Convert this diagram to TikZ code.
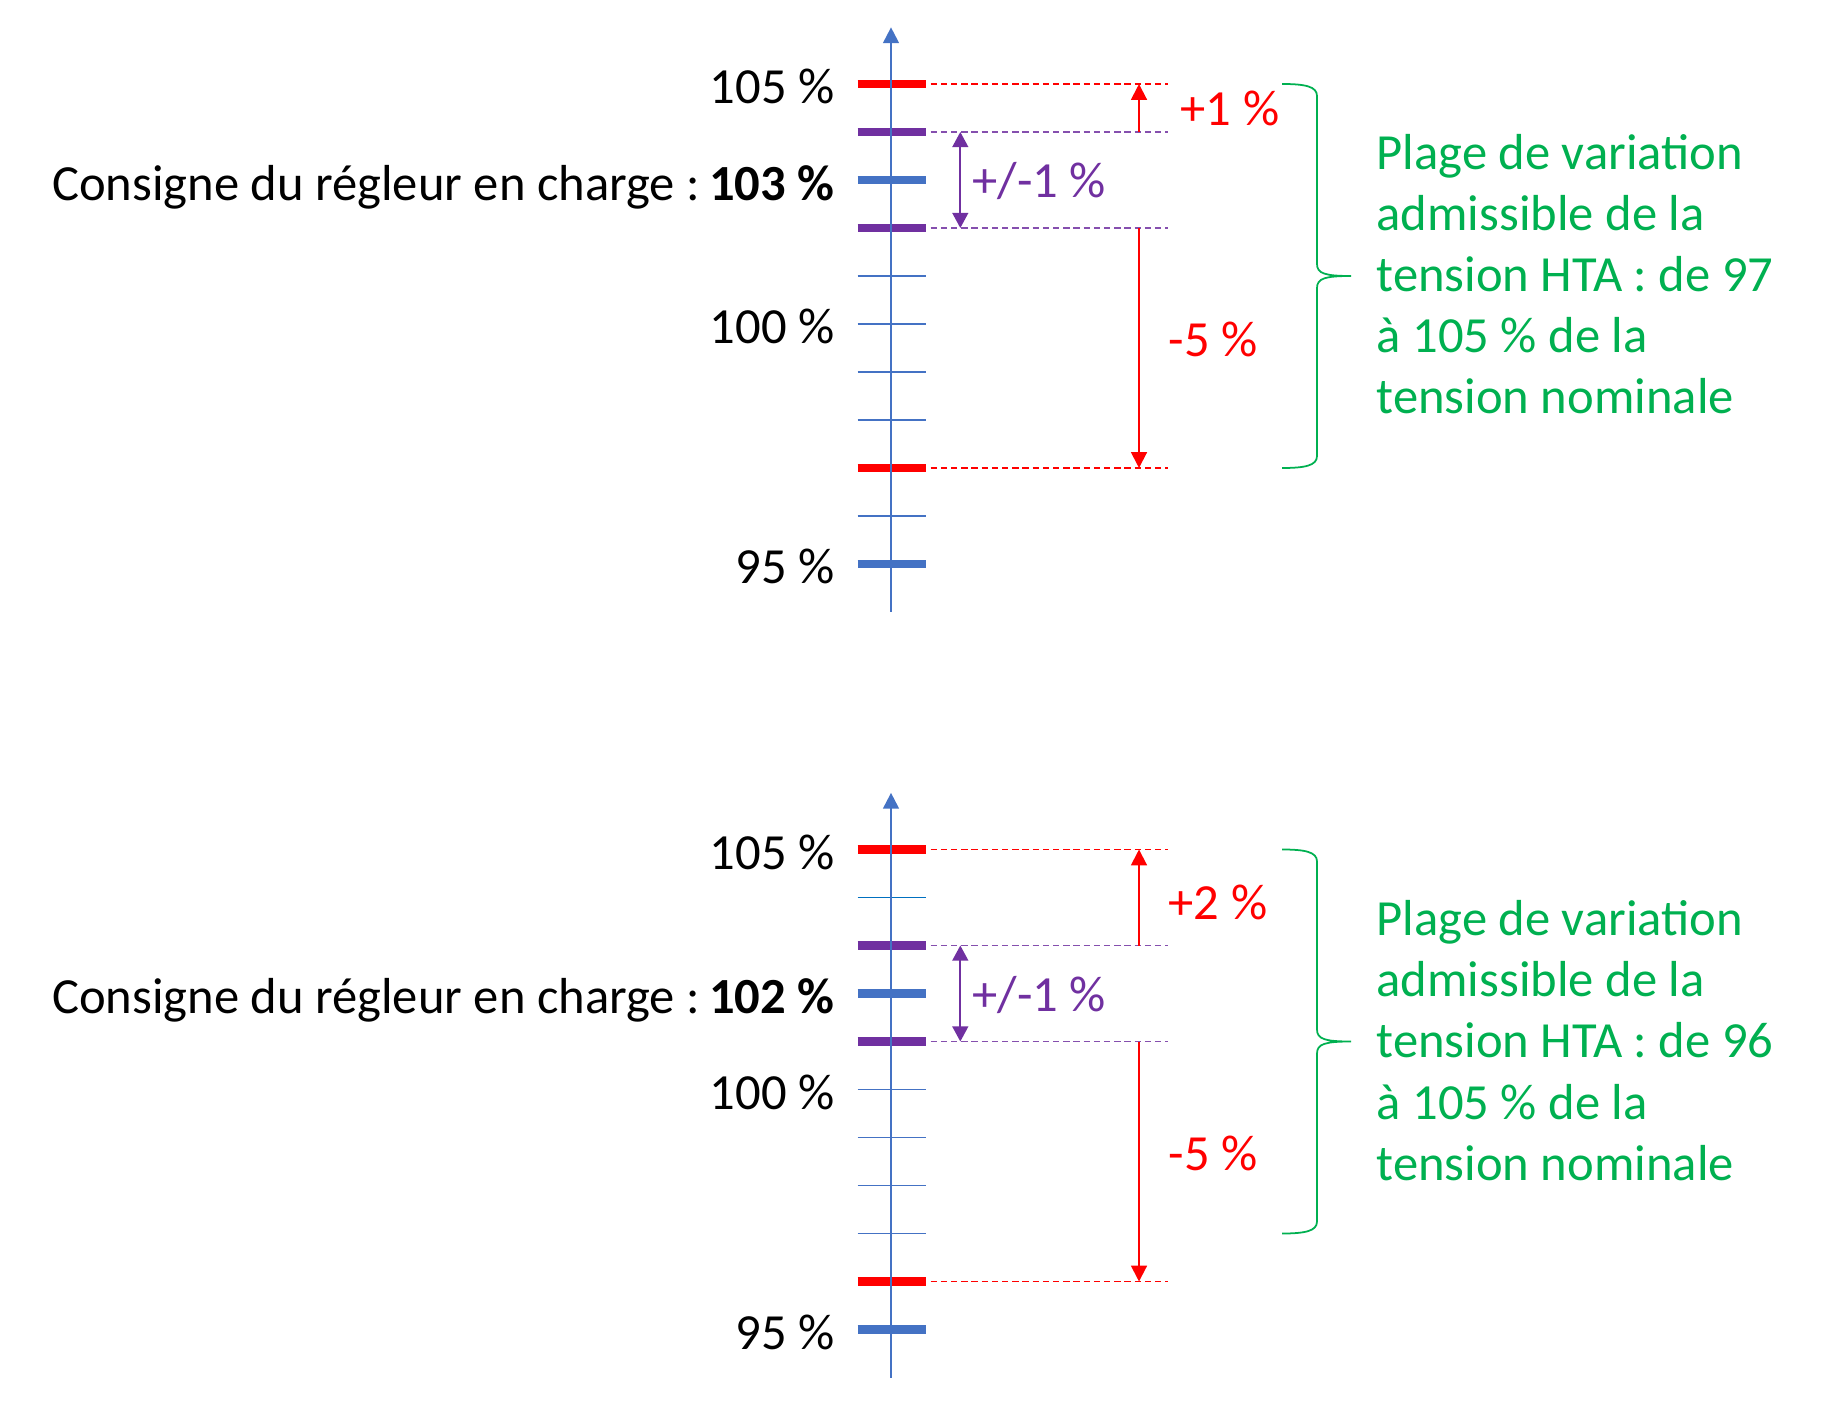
\documentclass[tikz,border=0pt]{standalone}
\usepackage{fontspec}
\setmainfont{Carlito}
\usetikzlibrary{arrows.meta,calc}
\definecolor{axisblue}{HTML}{4472C4}
\definecolor{tickblue}{HTML}{0070C0}
\definecolor{limred}{HTML}{FF0000}
\definecolor{bandpurple}{HTML}{7030A0}
\definecolor{rangegreen}{HTML}{00B050}
\tikzset{majortick/.style={line width=2.4pt},
  minortick/.style={line width=0.55pt,axisblue},
  guide/.style={line width=0.4pt,dash pattern=on 1.8pt off 1.1pt},
  arr/.style={-{Triangle[length=4.5pt,width=4.5pt]},line width=0.55pt},
  dbl/.style={{Triangle[length=4.3pt,width=4.5pt]}-{Triangle[length=4.3pt,width=4.5pt]},line width=0.55pt},
  axisline/.style={axisblue,line width=0.57pt,-{Triangle[length=4.5pt,width=4.5pt]}},
  pct/.style={anchor=east,inner sep=0pt,text depth=0pt,yshift=-0.025cm},
  gaplbl/.style={anchor=west,inner sep=0pt,text depth=0pt},
  bracepath/.style={rangegreen,line width=0.5pt},
  rangetext/.style={rangegreen,anchor=base west,align=left,inner sep=0pt}}

\begin{document}
\begin{tikzpicture}[y=0.48cm,font=\fontsize{14.4}{17.4}\selectfont]
\useasboundingbox (0cm,0cm) rectangle (18.22cm,14.08cm);

\begin{scope}[yshift=10.84cm]
\foreach \y in {1,0,-1,-2,-4} \draw[minortick] (8.577,\y)--(9.257,\y);
\foreach \y/\c in {5/limred,4/bandpurple,3/axisblue,2/bandpurple,-3/limred,-5/axisblue}
  \draw[majortick,\c] (8.577,\y)--(9.257,\y);
\draw[axisline] (8.91,-6)--(8.91,6.18);
\foreach \y/\c in {5/limred,4/bandpurple!85,2/bandpurple!85,-3/limred}
  \draw[guide,\c] (9.307,\y)--(11.683,\y);
\node[pct] (a105) at (8.35,5) {105 \%};
\node[pct] (aset) at (8.35,3) {Consigne du régleur en charge :\hspace{-0.12em} \textbf{103 \%}};
\node[pct] (a100) at (8.35,0) {100 \%};
\node[pct] (a95) at (8.35,-5) {95 \%};
\coordinate (ahi) at (11.39,5);
\coordinate (abhi) at (11.39,4);
\coordinate (ablo) at (11.39,2);
\coordinate (alo) at (11.39,-3);
\coordinate (asup) at (9.603,4);
\coordinate (asub) at (9.603,2);
\draw[arr,limred] (abhi)--(ahi);
\draw[arr,limred] (ablo)--(alo);
\draw[dbl,bandpurple] (asup)--(asub);
\node[gaplbl,limred] (aplus) at (11.80,4.5) {+1 \%};
\node[gaplbl,limred] (aminus) at (11.68,-0.31) {-5 \%};
\node[gaplbl,bandpurple] (aband) at (9.717,3) {+/-1 \%};
\draw[bracepath] (12.82,5) .. controls (13.05,5) and (13.17,4.95) .. (13.17,4.75) -- (13.17,1.25)
  .. controls (13.17,1.05) and (13.25,1) .. (13.51,1) .. controls (13.25,1) and (13.17,0.95) .. (13.17,0.75)
  -- (13.17,-2.75) .. controls (13.17,-2.95) and (13.05,-3) .. (12.82,-3);
\node[rangetext] (arange) at (13.76,-1.875) {Plage de variation\\admissible de la\\tension HTA : de 97\\à 105 \% de la\\tension nominale};
\end{scope}

\begin{scope}[yshift=3.185cm]
\draw[minortick,tickblue] (8.577,4)--(9.257,4);
\foreach \y in {0,-1,-2,-3} \draw[minortick] (8.577,\y)--(9.257,\y);
\foreach \y/\c in {5/limred,3/bandpurple,2/axisblue,1/bandpurple,-4/limred,-5/axisblue}
  \draw[majortick,\c] (8.577,\y)--(9.257,\y);
\draw[axisline] (8.91,-6)--(8.91,6.18);
\foreach \y/\c in {5/limred,3/bandpurple!85,1/bandpurple!85,-4/limred}
  \draw[guide,\c] (9.307,\y)--(11.683,\y);
\node[pct] (b105) at (8.35,5) {105 \%};
\node[pct] (bset) at (8.35,2) {Consigne du régleur en charge :\hspace{-0.12em} \textbf{102 \%}};
\node[pct] (b100) at (8.35,0) {100 \%};
\node[pct] (b95) at (8.35,-5) {95 \%};
\coordinate (bhi) at (11.39,5);
\coordinate (bbhi) at (11.39,3);
\coordinate (bblo) at (11.39,1);
\coordinate (blo) at (11.39,-4);
\coordinate (bsup) at (9.603,3);
\coordinate (bsub) at (9.603,1);
\draw[arr,limred] (bbhi)--(bhi);
\draw[arr,limred] (bblo)--(blo);
\draw[dbl,bandpurple] (bsup)--(bsub);
\node[gaplbl,limred] (bplus) at (11.68,3.9) {+2 \%};
\node[gaplbl,limred] (bminus) at (11.68,-1.33) {-5 \%};
\node[gaplbl,bandpurple] (bband) at (9.717,2) {+/-1 \%};
\draw[bracepath] (12.82,5) .. controls (13.05,5) and (13.17,4.95) .. (13.17,4.75) -- (13.17,1.25)
  .. controls (13.17,1.05) and (13.25,1) .. (13.51,1) .. controls (13.25,1) and (13.17,0.95) .. (13.17,0.75)
  -- (13.17,-2.75) .. controls (13.17,-2.95) and (13.05,-3) .. (12.82,-3);
\node[rangetext] (brange) at (13.76,-1.89) {Plage de variation\\admissible de la\\tension HTA : de 96\\à 105 \% de la\\tension nominale};
\end{scope}
\end{tikzpicture}
\end{document}
